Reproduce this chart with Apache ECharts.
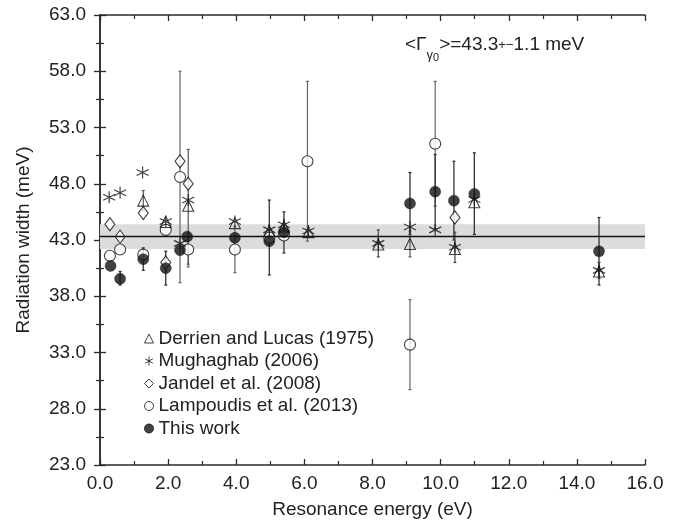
<!DOCTYPE html>
<html>
<head>
<meta charset="utf-8">
<script src="https://cdn.jsdelivr.net/npm/echarts@6/dist/echarts.min.js"></script>
<style>html,body{margin:0;padding:0;background:#fff;}#c{width:679px;height:524px;}</style>
</head>
<body>
<div id="c"></div>
<script>
// ---- data ----
const xTicksMin = 0, xTicksMax = 16, xStep = 2;
const yTicksMin = 23, yTicksMax = 63, yStep = 5;
const meanWidth = 43.3, meanErr = 1.1;

const seriesNames = ['Derrien and Lucas (1975)', 'Mughaghab (2006)', 'Jandel et al. (2008)', 'Lampoudis et al. (2013)', 'This work'];

const derX  = [1.27, 1.93, 2.59, 3.96, 4.97, 5.40, 6.12, 8.17, 9.10, 10.42, 10.99, 14.65];
const derY  = [46.5, 44.6, 46.05, 44.5, 43.8, 44.2, 43.7, 42.6, 42.65, 42.2, 46.35, 40.2];
const derLo = [45.6, null, 40.85, null, null, null, null, null, 41.5, null, null, null];
const derHi = [47.4, null, 51.05, null, null, null, null, null, 43.8, null, null, null];

const mugX  = [0.27, 0.59, 1.25, 1.93, 2.35, 2.59, 3.96, 4.97, 5.40, 6.12, 8.17, 9.10, 9.84, 10.42, 10.99, 14.65];
const mugY  = [46.8, 47.2, 49.0, 44.65, 42.7, 46.55, 44.65, 43.9, 44.35, 43.8, 42.7, 44.15, 43.9, 42.35, 46.6, 40.3];
const mugLo = [null, null, null, null, null, null, null, null, null, null, 41.5, null, null, 41.0, null, 39.6];
const mugHi = [null, null, null, null, null, null, null, null, null, null, 43.9, null, null, 43.7, null, 41.0];

const janX  = [0.29, 0.59, 1.27, 1.93, 2.35, 2.59, 10.42];
const janY  = [44.4, 43.3, 45.4, 41.0, 50.0, 48.0, 45.0];

const lamX  = [0.29, 0.59, 1.27, 1.93, 2.35, 2.59, 3.96, 4.97, 5.40, 6.09, 9.10, 9.84];
const lamY  = [41.6, 42.15, 41.7, 43.9, 48.6, 42.15, 42.15, 43.2, 43.4, 50.0, 33.7, 51.55];
const lamLo = [null, null, null, null, 39.2, 40.6, 40.1, null, null, 42.9, 29.7, 46.0];
const lamHi = [null, null, null, null, 58.0, 43.7, 44.2, null, null, 57.1, 37.7, 57.1];

const twX  = [0.31, 0.59, 1.27, 1.93, 2.35, 2.56, 3.96, 4.97, 5.40, 9.10, 9.84, 10.39, 10.99, 14.65];
const twY  = [40.7, 39.55, 41.3, 40.5, 42.1, 43.3, 43.2, 42.9, 43.7, 46.25, 47.3, 46.5, 47.1, 42.0];
const twLo = [null, 39.0, 40.3, 39.0, null, null, null, 39.9, 41.85, 43.5, 44.0, 43.0, 43.5, 39.0];
const twHi = [null, 40.2, 42.3, 42.0, null, null, null, 46.55, 45.5, 49.0, 50.6, 50.0, 50.75, 45.0];

// ---- helpers ----
function pts(xs, ys) { return xs.map((x, i) => [x, ys[i]]); }
function errs(xs, lo, hi) {
  const out = [];
  xs.forEach((x, i) => { if (lo[i] != null && hi[i] != null) out.push([x, lo[i], hi[i]]); });
  return out;
}
function errSeries(data, color, width) {
  return {
    type: 'custom', data: data, silent: true, z: 2,
    encode: { x: 0, y: [1, 2] },
    renderItem: function (params, api) {
      const a = api.coord([api.value(0), api.value(1)]);
      const b = api.coord([api.value(0), api.value(2)]);
      const st = { stroke: color, lineWidth: width };
      return { type: 'group', children: [
        { type: 'line', shape: { x1: a[0], y1: a[1], x2: b[0], y2: b[1] }, style: st },
        { type: 'line', shape: { x1: a[0] - 1.5, y1: a[1], x2: a[0] + 1.5, y2: a[1] }, style: st },
        { type: 'line', shape: { x1: b[0] - 1.5, y1: b[1], x2: b[0] + 1.5, y2: b[1] }, style: st }
      ]};
    }
  };
}
const FONT = '"Liberation Sans", Arial, Helvetica, sans-serif';
const AX = '#2a2a2a';
const asterisk = 'path://M0,-10L0,10M-8.66,-5L8.66,5M-8.66,5L8.66,-5';

function axisCommon(showLabel) {
  return {
    axisLine: { show: true, lineStyle: { color: AX, width: 1.5 } },
    axisTick: { show: true, inside: true, length: 6, lineStyle: { color: AX, width: 1.3 } },
    minorTick: { show: true, splitNumber: 2, length: 4, lineStyle: { color: AX, width: 1.2 } },
    splitLine: { show: false },
    axisLabel: { show: showLabel, color: '#222', fontSize: 19, fontFamily: FONT,
      formatter: v => v.toFixed(1) }
  };
}

const chart = echarts.init(document.getElementById('c'), null, { renderer: 'canvas' });
chart.setOption({
  animation: false,
  backgroundColor: '#fff',
  grid: { left: 100, right: 34, top: 15, bottom: 55, containLabel: false },
  xAxis: [
    Object.assign({ type: 'value', position: 'bottom', min: xTicksMin, max: xTicksMax, interval: xStep,
      name: 'Resonance energy (eV)', nameLocation: 'middle', nameGap: 35,
      nameTextStyle: { fontSize: 19, fontFamily: FONT, color: '#222' } }, axisCommon(true),
      { axisLabel: { show: true, color: '#222', fontSize: 19, fontFamily: FONT, margin: 9, formatter: v => v.toFixed(1) } }),
    Object.assign({ type: 'value', position: 'top', min: xTicksMin, max: xTicksMax, interval: xStep }, axisCommon(false))
  ],
  yAxis: [
    Object.assign({ type: 'value', position: 'left', min: yTicksMin, max: yTicksMax, interval: yStep,
      name: 'Radiation width (meV)', nameLocation: 'middle', nameGap: 67, nameRotate: 90,
      nameTextStyle: { fontSize: 19, fontFamily: FONT, color: '#222' } }, axisCommon(true),
      { axisLabel: { show: true, color: '#222', fontSize: 19, fontFamily: FONT, margin: 14, formatter: v => v.toFixed(1) } }),
    Object.assign({ type: 'value', position: 'right', min: yTicksMin, max: yTicksMax, interval: yStep }, axisCommon(false))
  ],
  legend: {
    orient: 'vertical', left: 139, top: 324, itemGap: 3.5, itemWidth: 9, itemHeight: 9,
    data: seriesNames,
    itemStyle: { borderWidth: 1 },
    textStyle: { fontSize: 19, fontFamily: FONT, color: '#222' }
  },
  graphic: [{
    type: 'text', left: 405, top: 35, z: 100,
    style: {
      text: '{a|<Γ}{s|γ}{z|0}{a|>=43.3}{p|+−}{a|1.1 meV}',
      fill: '#222', fontFamily: FONT,
      rich: {
        a: { fontSize: 19, lineHeight: 22, padding: [0, 0, 10, 0], fontFamily: FONT, fill: '#222' },
        s: { fontSize: 13, lineHeight: 16, padding: [12, 0, 0, 0], fontFamily: FONT, fill: '#222' },
        z: { fontSize: 11, lineHeight: 14, padding: [16, 0, 0, 0], fontFamily: FONT, fill: '#222' },
        p: { fontSize: 13, lineHeight: 22, padding: [0, 0, 8, 0], fontFamily: FONT, fill: '#222' }
      }
    }
  }],
  series: [
    {
      type: 'line', data: [], silent: true, z: 1,
      markArea: { silent: true, itemStyle: { color: '#dcdcdc' },
        data: [[{ yAxis: meanWidth - meanErr }, { yAxis: meanWidth + meanErr }]] },
      markLine: { silent: true, symbol: ['none', 'none'], label: { show: false },
        lineStyle: { color: '#111', width: 1.4, type: 'solid' },
        data: [{ yAxis: meanWidth }] }
    },
    errSeries(errs(lamX, lamLo, lamHi), '#666', 1.2),
    errSeries(errs(derX, derLo, derHi), '#555', 1.2),
    errSeries(errs(mugX, mugLo, mugHi), '#444', 1.2),
    errSeries(errs(twX, twLo, twHi), '#333', 1.3),
    {
      name: seriesNames[3], type: 'scatter', z: 3, data: pts(lamX, lamY), symbol: 'circle', symbolSize: 11,
      itemStyle: { color: '#fff', borderColor: '#111', borderWidth: 1.1 }
    },
    {
      name: seriesNames[2], type: 'scatter', z: 4, data: pts(janX, janY), symbol: 'diamond', symbolSize: [10, 13],
      itemStyle: { color: '#fff', borderColor: '#111', borderWidth: 1.1 }
    },
    {
      name: seriesNames[1], type: 'scatter', z: 5, data: pts(mugX, mugY), symbol: asterisk, symbolSize: 12,
      itemStyle: { color: 'rgba(0,0,0,0)', borderColor: '#111', borderWidth: 1.2 }
    },
    {
      name: seriesNames[0], type: 'scatter', z: 6, data: pts(derX, derY), symbol: 'triangle', symbolSize: [11, 11],
      itemStyle: { color: 'rgba(255,255,255,0)', borderColor: '#111', borderWidth: 1.1 }
    },
    {
      name: seriesNames[4], type: 'scatter', z: 7, data: pts(twX, twY), symbol: 'circle', symbolSize: 11,
      itemStyle: { color: '#111', borderColor: '#111', borderWidth: 0.5 }
    }
  ]
});
</script>
</body>
</html>
